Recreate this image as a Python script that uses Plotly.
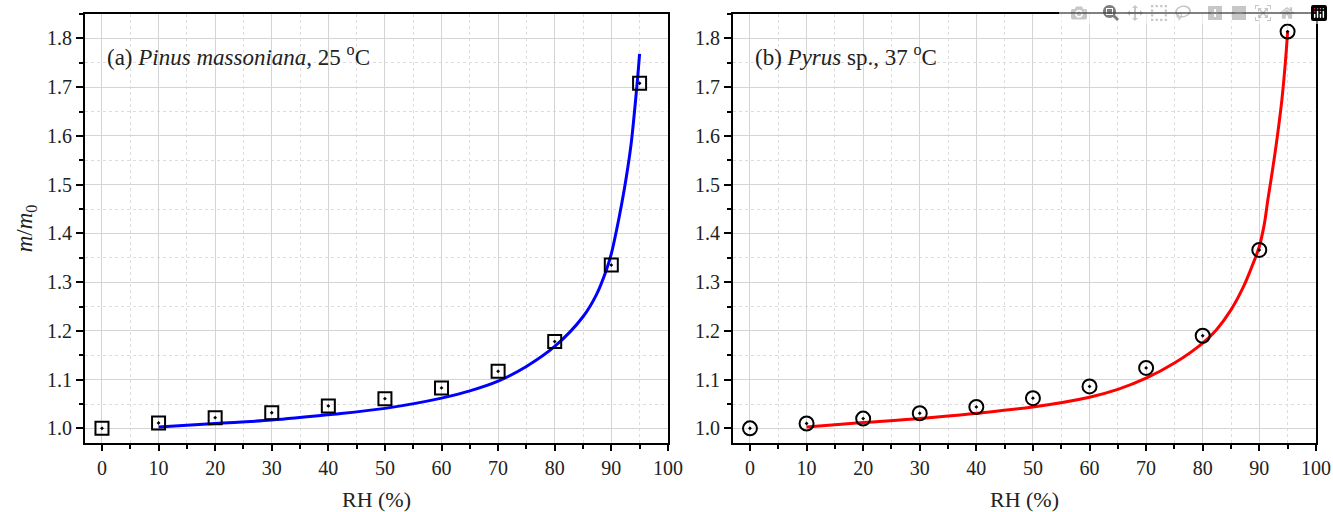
import plotly.graph_objects as go

# ---------------- data ----------------
rh_points = [0, 10, 20, 30, 40, 50, 60, 70, 80, 90, 95]
pinus_points = [1.000, 1.011, 1.022, 1.032, 1.046, 1.061, 1.083, 1.117, 1.178, 1.335, 1.708]
pyrus_points = [1.000, 1.010, 1.020, 1.031, 1.044, 1.062, 1.086, 1.124, 1.190, 1.366, 1.814]

pinus_fit_rh = [10, 20, 30, 40, 50, 60, 65, 70, 75, 80, 85, 87.4, 89.1, 90, 90.9, 91.8, 92.65, 93.5, 94.1, 94.7, 95]
pinus_fit_m = [1.003, 1.010, 1.017, 1.028, 1.041, 1.062, 1.077, 1.097, 1.127, 1.168, 1.229, 1.275, 1.324, 1.358, 1.405, 1.458, 1.515, 1.583, 1.650, 1.725, 1.768]

pyrus_fit_rh = [10, 20, 30, 40, 50, 60, 65, 70, 75, 80, 82.4, 85, 87.1, 88.8, 90, 90.9, 91.5, 92.4, 93.2, 94, 94.6, 95]
pyrus_fit_m = [1.003, 1.012, 1.020, 1.031, 1.044, 1.064, 1.080, 1.103, 1.134, 1.175, 1.202, 1.243, 1.288, 1.335, 1.373, 1.420, 1.468, 1.535, 1.600, 1.675, 1.750, 1.813]

x_ticks = [0, 10, 20, 30, 40, 50, 60, 70, 80, 90, 100]
y_ticks = [1.0, 1.1, 1.2, 1.3, 1.4, 1.5, 1.6, 1.7, 1.8]
x_range = [-3, 100.02]
y_range = [0.97, 1.85]

FONT = "Liberation Serif"
TICKFONT = dict(family=FONT, size=20, color="#222")
TITLEFONT = dict(family=FONT, size=22, color="#222")

W, H = 1333, 512
R = W - 1316
PW = W - R

fig = go.Figure()

fig.add_trace(go.Scatter(x=pinus_fit_rh, y=pinus_fit_m, mode="lines",
                         line=dict(color="#0000ff", width=3, shape="spline", smoothing=1.0),
                         xaxis="x", yaxis="y", showlegend=False))
fig.add_trace(go.Scatter(x=rh_points, y=pinus_points, mode="markers",
                         marker=dict(symbol="square-open-dot", size=13, color="black",
                                     line=dict(width=2, color="black")),
                         xaxis="x", yaxis="y", showlegend=False))
fig.add_trace(go.Scatter(x=pyrus_fit_rh, y=pyrus_fit_m, mode="lines",
                         line=dict(color="#ff0000", width=3, shape="spline", smoothing=1.0),
                         xaxis="x2", yaxis="y2", showlegend=False))
fig.add_trace(go.Scatter(x=rh_points, y=pyrus_points, mode="markers",
                         marker=dict(symbol="circle-open-dot", size=14, color="black",
                                     line=dict(width=2, color="black")),
                         xaxis="x2", yaxis="y2", showlegend=False))

dom_l = [85 / PW, 668 / PW]
dom_r = [733 / PW, 1.0]

def main_x(dom, anchor):
    return dict(domain=dom, anchor=anchor, range=x_range, tickvals=x_ticks,
                automargin=False, ticklabeloverflow="allow",
                showline=True, linecolor="black", linewidth=2, mirror=True,
                ticks="outside", ticklen=6, tickwidth=1.5, tickcolor="black",
                tickfont=TICKFONT, showgrid=True, gridcolor="#d4d4d4", gridwidth=1,
                zeroline=False,
                minor=dict(dtick=5, tick0=0, ticks="outside", ticklen=4, tickwidth=1.5,
                           tickcolor="black", showgrid=True, gridcolor="#dddddd",
                           griddash="dot", gridwidth=1),
                title=dict(text="RH (%)", font=TITLEFONT, standoff=14))

def main_y(dom_anchor, title=None):
    d = dict(domain=[0, 1], anchor=dom_anchor, range=y_range, tickvals=y_ticks,
             automargin=False, ticklabeloverflow="allow",
             tickformat=".1f", showline=True, linecolor="black", linewidth=2, mirror=True,
             ticks="outside", ticklen=7, tickwidth=1.5, tickcolor="black",
             tickfont=TICKFONT, showgrid=True, gridcolor="#d4d4d4", gridwidth=1,
             zeroline=False,
             minor=dict(dtick=0.05, tick0=0, ticks="outside", ticklen=4, tickwidth=1.5,
                        tickcolor="black", showgrid=True, gridcolor="#dddddd",
                        griddash="dot", gridwidth=1))
    if title:
        d["title"] = dict(text=title, font=dict(family=FONT, size=23, color="#222"), standoff=8)
    return d

def top_x(over, anchor):
    return dict(overlaying=over, side="top", anchor=anchor, range=x_range, tickvals=x_ticks,
                automargin=False,
                showticklabels=False, showgrid=False, zeroline=False, showline=False,
                ticks="inside", ticklen=7, tickwidth=1.5, tickcolor="black",
                minor=dict(dtick=5, tick0=0, ticks="inside", ticklen=4, tickwidth=1.5,
                           tickcolor="black", showgrid=False))

def right_y(over, anchor):
    return dict(overlaying=over, side="right", anchor=anchor, range=y_range, tickvals=y_ticks,
                automargin=False,
                showticklabels=False, showgrid=False, zeroline=False, showline=False,
                ticks="inside", ticklen=7, tickwidth=1.5, tickcolor="black",
                minor=dict(dtick=0.05, tick0=0, ticks="inside", ticklen=4, tickwidth=1.5,
                           tickcolor="black", showgrid=False))

fig.update_layout(
    width=W, height=H,
    margin=dict(l=0, r=R, t=14, b=H - 443),
    paper_bgcolor="white", plot_bgcolor="white",
    font=dict(family=FONT, color="#222"),
    xaxis=main_x(dom_l, "y"),
    yaxis=main_y("x", "<i>m</i>/<i>m</i><sub>0</sub>"),
    xaxis2=main_x(dom_r, "y2"),
    yaxis2=main_y("x2"),
    xaxis3=top_x("x", "y"),
    yaxis3=right_y("y", "x"),
    xaxis4=top_x("x2", "y2"),
    yaxis4=right_y("y2", "x2"),
    annotations=[
        dict(x=0.5, y=1.765, xref="x", yref="y", xanchor="left", yanchor="middle",
             text="(a) <i>Pinus massoniana</i>, 25 <sup>o</sup>C", showarrow=False,
             font=dict(family=FONT, size=23, color="#222")),
        dict(x=0.5, y=1.765, xref="x2", yref="y2", xanchor="left", yanchor="middle",
             text="(b) <i>Pyrus</i> sp., 37 <sup>o</sup>C", showarrow=False,
             font=dict(family=FONT, size=23, color="#222")),
    ],
)

# remove the browser's default 8px body margin so the figure fills the window exactly
fig.write_html("out.html",
               post_script="document.body.style.margin='0';document.body.style.overflow='hidden';")
